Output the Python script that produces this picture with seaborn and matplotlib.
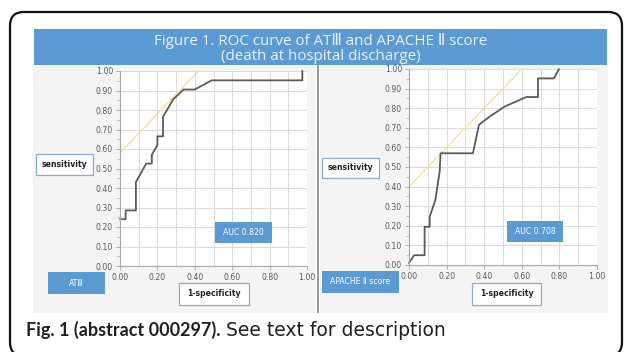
import matplotlib
matplotlib.use("Agg")
import matplotlib.pyplot as plt
import seaborn as sns
import pandas as pd
import numpy as np
from matplotlib.patches import Rectangle, FancyBboxPatch

# ---- data ----
atiii_fpr = [0.00, 0.03, 0.03, 0.085, 0.085, 0.14, 0.17, 0.17, 0.20, 0.20, 0.23, 0.23, 0.285, 0.34, 0.40, 0.49, 0.975, 0.975]
atiii_tpr = [0.24, 0.24, 0.285, 0.285, 0.43, 0.525, 0.525, 0.57, 0.62, 0.665, 0.665, 0.765, 0.855, 0.905, 0.905, 0.952, 0.952, 1.00]
atiii_tangent_x = [0.00, 0.42]
atiii_tangent_y = [0.58, 1.00]

apache_fpr = [0.00, 0.027, 0.083, 0.083, 0.11, 0.11, 0.14, 0.163, 0.168, 0.34, 0.372, 0.43, 0.51, 0.624, 0.686, 0.686, 0.771, 0.798]
apache_tpr = [0.01, 0.05, 0.05, 0.195, 0.195, 0.246, 0.331, 0.476, 0.57, 0.57, 0.715, 0.758, 0.809, 0.857, 0.857, 0.952, 0.952, 1.00]
apache_tangent_x = [0.00, 0.60]
apache_tangent_y = [0.40, 1.00]

ticks = [0.0, 0.2, 0.4, 0.6, 0.8, 1.0]
tick_labels = ["0.00", "0.20", "0.40", "0.60", "0.80", "1.00"]
yticks = [0.0, 0.1, 0.2, 0.3, 0.4, 0.5, 0.6, 0.7, 0.8, 0.9, 1.0]
ytick_labels = ["0.00", "0.10", "0.20", "0.30", "0.40", "0.50", "0.60", "0.70", "0.80", "0.90", "1.00"]

title_text = "Figure 1. ROC curve of AT\u2162 and APACHE \u2161 score\n(death at hospital discharge)"
auc_labels = ["AUC 0.820", "AUC 0.708"]
marker_labels = ["AT\u2162", "APACHE \u2161 score"]
caption_bold = "Fig. 1 (abstract 000297)."
caption_rest = " See text for description"

# ---- figure ----
sns.set_theme(style="white")
plt.rcParams['font.family'] = ['DejaVu Sans']
W, H = 628, 352
fig = plt.figure(figsize=(W / 100, H / 100), dpi=100)
fig.patch.set_facecolor("white")

def fx(x):
    return x / W

def fy(y):
    return 1 - y / H

def rect(x0, y0, x1, y1, **kw):
    r = Rectangle((fx(x0), fy(y1)), fx(x1) - fx(x0), fy(y0) - fy(y1),
                  transform=fig.transFigure, **kw)
    fig.add_artist(r)
    return r

BLUE = "#5b9bd5"

# outer rounded frame
frame = FancyBboxPatch((fx(10), fy(356)), fx(622) - fx(10), fy(12) - fy(356),
                       boxstyle="round,pad=0,rounding_size=0.022",
                       transform=fig.transFigure, fill=False,
                       edgecolor="#111111", linewidth=1.6, mutation_aspect=W / H)
fig.add_artist(frame)

# panel backgrounds
rect(33, 64, 316, 313, facecolor="#f4f4f4", edgecolor="none", zorder=0)
rect(320, 64, 608, 313, facecolor="#f4f4f4", edgecolor="none", zorder=0)
rect(316.5, 64, 319.5, 313, facecolor="#9a9a9a", edgecolor="none", zorder=0)

# banner
rect(34, 29, 607, 65, facecolor=BLUE, edgecolor="none", zorder=1)
fig.text(fx(321), fy(48.5), title_text, ha="center", va="center", color="#eef3fa",
         fontsize=10.9, family=["Open Sans", "DejaVu Sans"], linespacing=1.03)

def make_axes(x0, y0, x1, y1):
    ax = fig.add_axes([fx(x0), fy(y1), fx(x1) - fx(x0), fy(y0) - fy(y1)])
    ax.set_facecolor("white")
    return ax

def style(ax):
    ax.set_xlim(0, 1)
    ax.set_ylim(0, 1)
    ax.set_xticks(ticks)
    ax.set_xticklabels(tick_labels)
    ax.set_xticks([0.1, 0.3, 0.5, 0.7, 0.9], minor=True)
    ax.set_yticks(yticks)
    ax.set_yticklabels(ytick_labels)
    ax.set_yticks(np.arange(0.05, 1.0, 0.1), minor=True)
    ax.grid(True, which="both", color="#d9d9d9", linewidth=0.7)
    ax.grid(False, which="minor", axis="y")
    for s in ["top", "right"]:
        ax.spines[s].set_visible(False)
    for s in ["left", "bottom"]:
        ax.spines[s].set_color("#a6a6a6")
        ax.spines[s].set_linewidth(0.8)
    ax.tick_params(axis="both", which="major", labelsize=5.6, colors="#a6a6a6",
                   labelcolor="#595959", length=3, width=0.6, pad=2, direction="out")
    ax.tick_params(axis="y", which="minor", length=2, width=0.5, colors="#a6a6a6", left=True)
    ax.tick_params(axis="x", which="minor", length=0)
    ax.tick_params(axis="x", which="major", bottom=True)
    ax.tick_params(axis="y", which="major", left=True)
    ax.set_xlabel("")
    ax.set_ylabel("")
    ax.set_axisbelow(True)

panels = [
    dict(ax=(120, 71, 307, 266), fpr=atiii_fpr, tpr=atiii_tpr, tx=atiii_tangent_x, ty=atiii_tangent_y,
         sens=(36, 154, 93, 175), auc=(215, 222, 272, 243), mark=(48, 272, 105, 294),
         spec=(179, 283, 249, 305), auc_label=auc_labels[0], mark_label=marker_labels[0]),
    dict(ax=(409, 69, 597, 265), fpr=apache_fpr, tpr=apache_tpr, tx=apache_tangent_x, ty=apache_tangent_y,
         sens=(322, 158, 379, 178), auc=(507, 221, 563, 242), mark=(322, 271, 399, 293),
         spec=(472, 283, 541, 305), auc_label=auc_labels[1], mark_label=marker_labels[1]),
]

for p in panels:
    ax = make_axes(*p["ax"])
    tdf = pd.DataFrame({"x": p["tx"], "y": p["ty"]})
    sns.lineplot(data=tdf, x="x", y="y", ax=ax, color="#ece48c", linewidth=0.9,
                 sort=False, estimator=None)
    df = pd.DataFrame({"x": p["fpr"], "y": p["tpr"]})
    sns.lineplot(data=df, x="x", y="y", ax=ax, color="#5a5a5a", linewidth=1.3,
                 sort=False, estimator=None)
    style(ax)
    for l in ax.lines:
        l.set_clip_on(False)

    # boxes
    x0, y0, x1, y1 = p["sens"]
    rect(x0, y0, x1, y1, facecolor="white", edgecolor="#8fa9c8", linewidth=0.9, zorder=3)
    fig.text(fx((x0 + x1) / 2), fy((y0 + y1) / 2), "sensitivity", ha="center", va="center",
             fontsize=5.6, fontweight="bold", color="#222222", zorder=4)
    x0, y0, x1, y1 = p["spec"]
    rect(x0, y0, x1, y1, facecolor="white", edgecolor="#8fa9c8", linewidth=0.9, zorder=3)
    fig.text(fx((x0 + x1) / 2), fy((y0 + y1) / 2), "1-specificity", ha="center", va="center",
             fontsize=5.6, fontweight="bold", color="#222222", zorder=4)
    x0, y0, x1, y1 = p["auc"]
    rect(x0, y0, x1, y1, facecolor=BLUE, edgecolor="none", zorder=3)
    fig.text(fx((x0 + x1) / 2), fy((y0 + y1) / 2), p["auc_label"], ha="center", va="center",
             fontsize=5.6, color="white", zorder=4)
    x0, y0, x1, y1 = p["mark"]
    rect(x0, y0, x1, y1, facecolor=BLUE, edgecolor="none", zorder=3)
    fig.text(fx((x0 + x1) / 2), fy((y0 + y1) / 2), p["mark_label"], ha="center", va="center",
             fontsize=5.6, color="white", zorder=4)

# caption
t1 = fig.text(fx(26), fy(336), caption_bold, ha="left", va="baseline", fontsize=13,
              family=["Lato", "Open Sans"], fontweight="bold", color="#231f20")
fig.canvas.draw()
bb = t1.get_window_extent(renderer=fig.canvas.get_renderer())
fig.text(bb.x1 / fig.dpi / fig.get_figwidth(), fy(336), caption_rest, ha="left", va="baseline",
         fontsize=13.5, family=["DejaVu Sans"], color="#231f20")

fig.savefig("out.png", dpi=100, facecolor="white")
